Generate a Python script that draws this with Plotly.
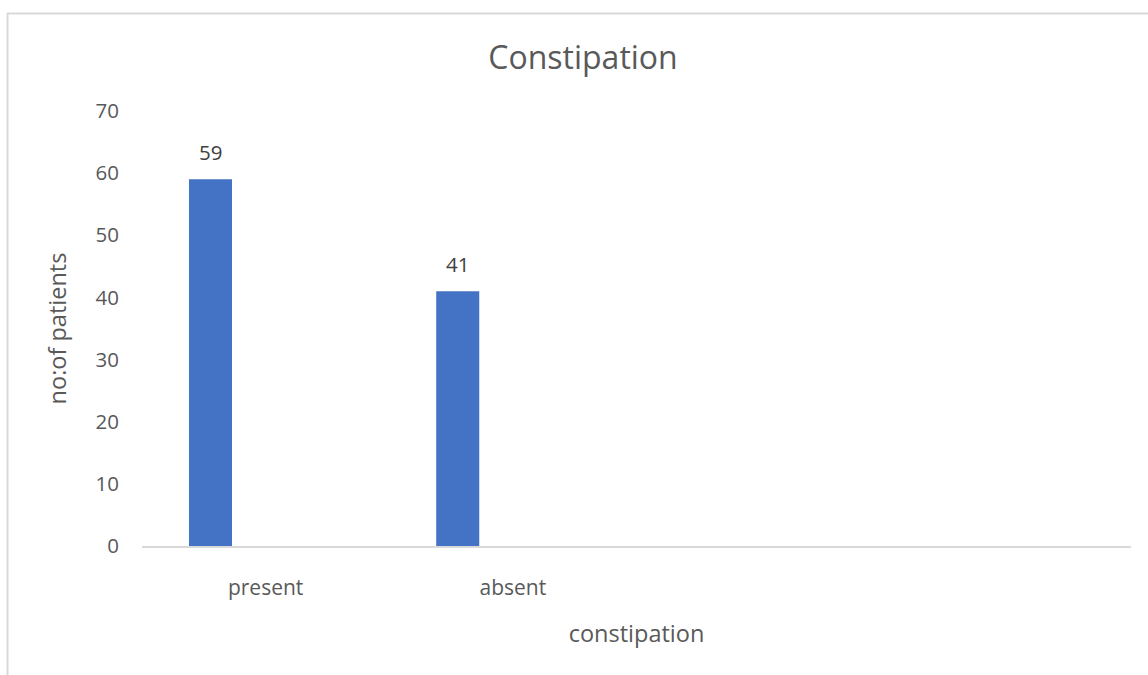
import plotly.graph_objects as go

categories = ["present", "absent"]
values = [59, 41]
y_ticks = [0, 10, 20, 30, 40, 50, 60, 70]

title_text = "Constipation"
x_title = "constipation"
y_title = "no:of patients"

BAR_COLOR = "#4472C4"
TEXT_COLOR = "#595959"
LABEL_COLOR = "#404040"
LINE_COLOR = "#D9D9D9"
FONT = "Open Sans, Noto Sans, sans-serif"

bar_offset = -0.31
bar_width = 0.174
xpos = list(range(len(categories)))

fig = go.Figure()
fig.add_trace(go.Bar(
    x=xpos, y=values, width=bar_width, offset=bar_offset,
    marker=dict(color=BAR_COLOR, line=dict(width=0)),
    hoverinfo="skip", showlegend=False,
))

for xi, v in zip(xpos, values):
    fig.add_annotation(
        x=xi + bar_offset + bar_width / 2, y=v, xref="x", yref="y",
        text=str(v), showarrow=False, yanchor="bottom", yshift=11,
        font=dict(family=FONT, size=20.5, color=LABEL_COLOR),
    )

W, H = 1148, 675
L, R, T, B = 142, 17, 111, 129
pw, ph = W - L - R, H - T - B

def px2paper_x(px):
    return (px - L) / pw

def py2paper_y(py):
    return (H - B - py) / ph

# outer chart border (left & top visible)
fig.add_shape(type="line", xref="paper", yref="paper",
              x0=px2paper_x(7.5), x1=px2paper_x(7.5),
              y0=py2paper_y(13), y1=py2paper_y(H + 5),
              line=dict(color=LINE_COLOR, width=2))
fig.add_shape(type="line", xref="paper", yref="paper",
              x0=px2paper_x(7), x1=px2paper_x(W + 5),
              y0=py2paper_y(13.5), y1=py2paper_y(13.5),
              line=dict(color=LINE_COLOR, width=2))

fig.update_layout(
    width=W, height=H,
    margin=dict(l=L, r=R, t=T, b=B, pad=0),
    paper_bgcolor="white", plot_bgcolor="white",
    font=dict(family=FONT, color=TEXT_COLOR),
    title=dict(text=title_text, x=(W / 2 + 9) / W, xanchor="center",
               y=1 - 58 / H, yanchor="middle",
               font=dict(family=FONT, size=32, color=TEXT_COLOR)),
    xaxis=dict(
        range=[-0.5, 3.5], tickvals=xpos, ticktext=categories,
        showgrid=False, zeroline=False, showline=True,
        linecolor=LINE_COLOR, linewidth=1.5,
        ticks="", ticklabelstandoff=22,
        tickfont=dict(family=FONT, size=21, color=TEXT_COLOR),
        title=dict(text=x_title, standoff=26,
                   font=dict(family=FONT, size=23.5, color=TEXT_COLOR)),
        fixedrange=True,
    ),
    yaxis=dict(
        range=[0, 70], tickvals=y_ticks,
        showgrid=False, zeroline=False, showline=False,
        ticks="", ticklabelstandoff=22,
        tickfont=dict(family=FONT, size=20.5, color=TEXT_COLOR),
        title=dict(text=y_title, standoff=22,
                   font=dict(family=FONT, size=23.5, color=TEXT_COLOR)),
        fixedrange=True,
    ),
)

fig.write_html("out.html")
